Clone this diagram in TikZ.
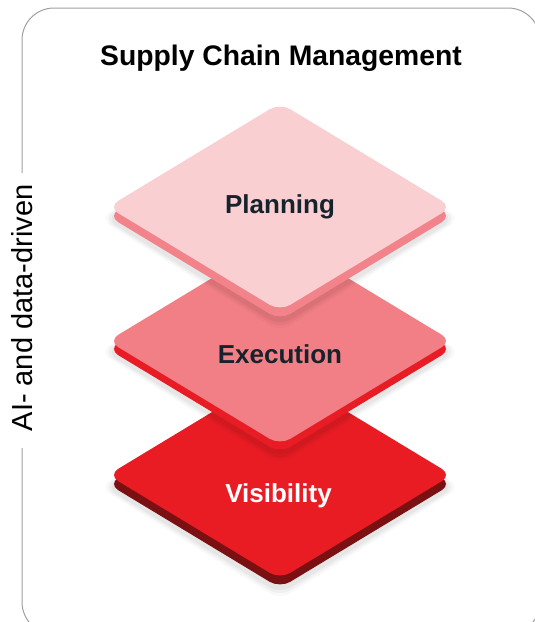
\documentclass[tikz,border=0pt]{standalone}
\usepackage{fontspec}
\setmainfont{Liberation Sans}
\definecolor{pface}{HTML}{F9CFD2}
\definecolor{pside}{HTML}{F3838A}
\definecolor{eface}{HTML}{F27F86}
\definecolor{eside}{HTML}{E81C25}
\definecolor{vface}{HTML}{E91C24}
\definecolor{vside}{HTML}{7B1013}
\definecolor{ink}{HTML}{17232C}
\definecolor{framegray}{HTML}{A0A0A0}
\newcommand\slab[4]{% #1 centre y, #2 face colour, #3 side colour, #4 thickness
  \foreach \k/\o in {9/0.025,6/0.035,3/0.045}{
    \fill[black,opacity=\o,rounded corners=13pt]
      (280-172-\k,#1+#4+3) -- (280,#1-104+#4+3-\k) -- (280+172+\k,#1+#4+3) -- (280,#1+104+#4+3+\k) -- cycle;}
  \fill[#3,rounded corners=12pt]
    (108,#1+#4) -- (280,#1-104+#4) -- (452,#1+#4) -- (280,#1+104+#4) -- cycle;
  \fill[#2,rounded corners=12pt]
    (108,#1) -- (280,#1-104) -- (452,#1) -- (280,#1+104) -- cycle;
}
\begin{document}
\begin{tikzpicture}[x=1pt,y=-1pt,
  label/.style={anchor=base,font=\fontsize{26}{26}\selectfont\bfseries,inner sep=0pt}]
\useasboundingbox (0,0) rectangle (535,622);
\clip (0,0) rectangle (535,622);
% frame with gap on the left side
\draw[framegray,line width=1pt,rounded corners=32pt]
  (22,448) -- (22,634) -- (540,634) -- (540,8) -- (22,8) -- (22,173);
\node[rotate=90,anchor=base,inner sep=0pt,font=\fontsize{29}{29}\selectfont] (side) at (32,308) {AI- and data-driven};
\node[anchor=base,inner sep=0pt,font=\fontsize{28.3}{28.3}\selectfont\bfseries] (title) at (281,65) {Supply Chain Management};
% layers, bottom first
\slab{475}{vface}{vside}{9}
\node[label,text=white] (vis) at (278.5,502) {Visibility};
\slab{341}{eface}{eside}{8}
\node[label,text=ink] (exe) at (280,363) {Execution};
\slab{207}{pface}{pside}{9}
\node[label,text=ink] (plan) at (280,213) {Planning};
\end{tikzpicture}
\end{document}
